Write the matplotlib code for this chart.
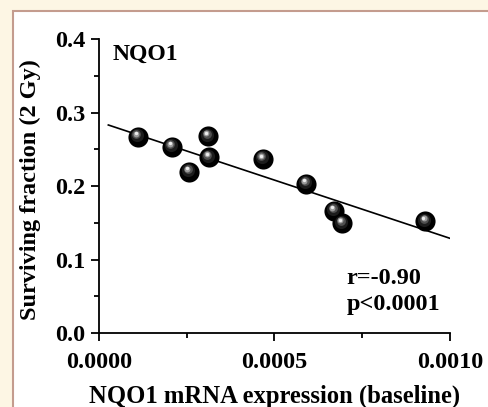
import numpy as np
import matplotlib
matplotlib.use("Agg")
import matplotlib.pyplot as plt
import matplotlib.transforms as mtransforms
from matplotlib.patches import Rectangle

# data
nqo1_expr = [0.000110, 0.000207, 0.000257, 0.000311, 0.000313,
             0.000466, 0.000590, 0.000670, 0.000693, 0.000930]
surv_frac = [0.267, 0.2535, 0.2195, 0.268, 0.239,
             0.237, 0.203, 0.1665, 0.149, 0.152]
fit_x = [0.0000266, 0.001]
fit_y = [0.283, 0.1288]
x_ticks = [0.0, 0.0005, 0.0010]
x_ticklabels = ["0.0000", "0.0005", "0.0010"]
y_ticks = [0.0, 0.1, 0.2, 0.3, 0.4]
y_ticklabels = ["0.0", "0.1", "0.2", "0.3", "0.4"]

plt.rcParams['font.family'] = ['Liberation Serif', 'DejaVu Serif']
plt.rcParams['font.weight'] = 'bold'

fig = plt.figure(figsize=(4.89, 4.07), dpi=100)
fig.patch.set_facecolor('#FDF6E4')
# white panel with rosy border
fig.patches.append(Rectangle((13 / 489, -0.05), 1.1, 1 - 11 / 407 + 0.05,
                             transform=fig.transFigure, facecolor='white',
                             edgecolor='#C49C8E', linewidth=1.5, zorder=-10))

ax = fig.add_axes([99 / 489, 1 - 333 / 407, 351 / 489, 294 / 407])
ax.set_facecolor('none')

# regression line
ax.plot(fit_x, fit_y, color='black', linewidth=1.2, zorder=2)

# shaded "sphere" markers
ax.scatter(nqo1_expr, surv_frac, s=210, color='black', zorder=3, linewidths=0)
shades = [('#1c1c1c', 90, -1.0, 1.5), ('#505050', 40, -1.5, 2.5),
          ('#9a9a9a', 18, -1.8, 3.0), ('#ececec', 6, -2.0, 3.3)]
for c, s, dx, dy in shades:
    tr = mtransforms.offset_copy(ax.transData, fig=fig, x=dx, y=dy, units='dots')
    ax.scatter(nqo1_expr, surv_frac, s=s, color=c, zorder=4, linewidths=0,
               transform=tr)

ax.set_xlim(0, 0.001)
ax.set_ylim(0, 0.4)
ax.set_xticks(x_ticks)
ax.set_xticklabels(x_ticklabels)
ax.set_yticks(y_ticks)
ax.set_yticklabels(y_ticklabels)
ax.set_xticks([0.00025, 0.00075], minor=True)
ax.set_yticks([0.05, 0.15, 0.25, 0.35], minor=True)
ax.tick_params(which='major', direction='out', length=6, width=1.3,
               labelsize=17.5)
ax.tick_params(axis='x', which='major', pad=8)
ax.tick_params(axis='y', which='major', pad=4)
ax.tick_params(which='minor', direction='out', length=3.8, width=1.3)
for lab in ax.get_xticklabels() + ax.get_yticklabels():
    lab.set_fontweight('bold')

for side in ['top', 'right']:
    ax.spines[side].set_visible(False)
for side in ['left', 'bottom']:
    ax.spines[side].set_linewidth(1.3)
ax.spines['bottom'].set_bounds(0, 0.001)

ax.set_xlabel('NQO1 mRNA expression (baseline)', fontsize=17.7, fontweight='bold',
              labelpad=8)
ax.set_ylabel('Surviving fraction (2 Gy)', fontsize=17.5, fontweight='bold')
ax.yaxis.set_label_coords(-0.166, 0.488)

ax.text(0.04, 0.985, 'NQO1', transform=ax.transAxes, fontsize=17,
        fontweight='bold', va='top', ha='left')
ax.text(0.705, 0.22, 'r=-0.90\np<0.0001', transform=ax.transAxes,
        fontsize=17.5, fontweight='bold', va='top', ha='left', linespacing=1.3)

fig.savefig('out.png', dpi=100, facecolor=fig.get_facecolor())
